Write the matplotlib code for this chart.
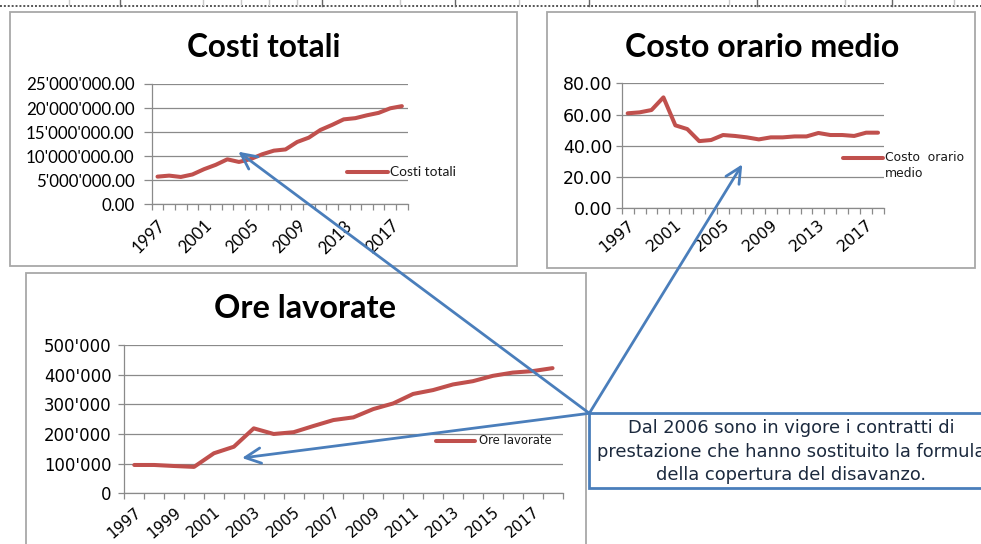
import matplotlib
matplotlib.use('Agg')
import numpy as np
import matplotlib.pyplot as plt
from matplotlib.patches import Rectangle, FancyArrowPatch
from matplotlib.lines import Line2D

# ---------------- data ----------------
years = list(range(1997, 2019))
costi_totali = [5.75e6, 5.96e6, 5.68e6, 6.20e6, 7.30e6, 8.20e6, 9.35e6, 8.80e6,
                9.40e6, 10.40e6, 11.15e6, 11.40e6, 12.95e6, 13.85e6, 15.45e6,
                16.50e6, 17.65e6, 17.90e6, 18.50e6, 19.00e6, 19.95e6, 20.40e6]
costo_orario = [60.8, 61.4, 62.9, 71.0, 53.1, 50.7, 43.0, 43.7, 46.9, 46.3, 45.4,
                44.1, 45.4, 45.4, 46.0, 46.0, 48.2, 46.9, 46.9, 46.3, 48.4, 48.4]
ore_lavorate = [95500, 95500, 92000, 89000, 135000, 157000, 219000, 200000,
                206000, 227000, 247000, 256000, 284000, 303000, 335000, 348000,
                367000, 378000, 396000, 407000, 412000, 422000]

titles = ["Costi totali", "Costo orario medio", "Ore lavorate"]
legend_labels = ["Costi totali", "Costo  orario\nmedio", "Ore lavorate"]
costi_yticks = [0, 5e6, 10e6, 15e6, 20e6, 25e6]
costi_yticklabels = ["0.00", "5'000'000.00", "10'000'000.00", "15'000'000.00",
                     "20'000'000.00", "25'000'000.00"]
orario_yticks = [0, 20, 40, 60, 80]
orario_yticklabels = ["0.00", "20.00", "40.00", "60.00", "80.00"]
ore_yticks = [0, 100000, 200000, 300000, 400000, 500000]
ore_yticklabels = ["0", "100'000", "200'000", "300'000", "400'000", "500'000"]
note_lines = ["Dal 2006 sono in vigore i contratti di",
              "prestazione che hanno sostituito la formula",
              "della copertura del disavanzo."]

# ---------------- layout helpers ----------------
W, H = 981, 544
fig = plt.figure(figsize=(W / 100, H / 100), dpi=100)
fig.patch.set_facecolor('white')


def fx(x):
    return x / W


def fy(y):
    return 1 - y / H


def rect(l, t, r, b):
    return [fx(l), fy(b), (r - l) / W, (b - t) / H]


RED = '#C0504D'
GRID = '#8a8a8a'
BOXC = '#a8a8a8'
BLUE = '#4a7ebb'


def box(l, t, r, b):
    fig.add_artist(Rectangle((fx(l), fy(b)), (r - l) / W, (b - t) / H,
                             transform=fig.transFigure, facecolor='white',
                             edgecolor=BOXC, lw=1.3, zorder=-2))


def chart(pos, values, yticks, yticklabels, step, family, ysize, xsize, rot,
          ytick_len, ypad, xpad):
    ax = fig.add_axes(rect(*pos))
    ax.set_facecolor('none')
    n = len(values)
    x = np.arange(n)
    ax.plot(x, values, color=RED, lw=2.9, solid_capstyle='round',
            solid_joinstyle='round', clip_on=False, zorder=3)
    ax.set_xlim(-0.5, n - 0.5)
    ax.set_ylim(yticks[0], yticks[-1])
    ax.set_yticks(yticks)
    ax.set_yticklabels(yticklabels, fontsize=ysize, family=family)
    ax.yaxis.grid(True, color=GRID, lw=0.9)
    ax.set_axisbelow(True)
    for s in ['top', 'right']:
        ax.spines[s].set_visible(False)
    for s in ['left', 'bottom']:
        ax.spines[s].set_color(GRID)
        ax.spines[s].set_linewidth(0.9)
    ax.set_xticks(x[::step])
    ax.set_xticklabels([str(years[i]) for i in x[::step]], fontsize=xsize,
                       family=family)
    ax.set_xticks(np.arange(-0.5, n, 1), minor=True)
    ax.tick_params(axis='x', which='major', length=0, pad=xpad)
    ax.tick_params(axis='x', which='minor', length=4.2, width=0.9, color=GRID)
    ax.tick_params(axis='y', length=ytick_len, width=0.9, color=GRID, pad=ypad)
    for lbl in ax.get_xticklabels():
        lbl.set_rotation(rot)
        lbl.set_ha('right')
        lbl.set_va('top')
        lbl.set_rotation_mode('anchor')
    return ax


# ---------------- top border remnants ----------------
fig.add_artist(Line2D([0, 1], [fy(5.5), fy(5.5)], transform=fig.transFigure,
                      color='#555555', lw=1.4, ls=(0, (1, 1)), zorder=-1))
for xv in [120, 322, 455, 589, 757, 892]:
    fig.add_artist(Line2D([fx(xv), fx(xv)], [fy(0), fy(6)],
                          transform=fig.transFigure, color='#666666', lw=1))
for xv in [69, 203, 241, 269, 297, 400, 519, 729, 845, 954]:
    fig.add_artist(Line2D([fx(xv), fx(xv)], [fy(0), fy(5)],
                          transform=fig.transFigure, color='#c8c8c8', lw=1))

# ---------------- chart boxes ----------------
box(9.5, 12.5, 516.5, 266)
box(547, 12.5, 975, 268)
box(26, 273, 585.7, 570)

# ---------------- charts ----------------
ax1 = chart((151.7, 84, 407.7, 204.3), costi_totali, costi_yticks,
            costi_yticklabels, 4, 'Lato', 12.2, 12.2, 45, 5.5, 7, 9.5)
ax2 = chart((621.7, 83.3, 884, 208.3), costo_orario, orario_yticks,
            orario_yticklabels, 4, 'DejaVu Sans', 12.5, 11.4, 40, 4.5, 2, 6.5)
ax3 = chart((124.3, 345, 562.5, 493.3), ore_lavorate, ore_yticks,
            ore_yticklabels, 2, 'DejaVu Sans', 11.9, 11.0, 40, 4, 5, 8)

# ---------------- titles ----------------
fig.text(fx(264), fy(56.7), titles[0], ha='center', va='baseline',
         family='Lato', weight='bold', fontsize=22.7)
fig.text(fx(762), fy(56.7), titles[1], ha='center', va='baseline',
         family='Lato', weight='bold', fontsize=23.1)
fig.text(fx(305.5), fy(318), titles[2], ha='center', va='baseline',
         family='Lato', weight='bold', fontsize=23.4)

# ---------------- legends ----------------
def legend(x0, x1, y, lines, tx, family, size, dy=15.6):
    fig.add_artist(Line2D([fx(x0), fx(x1)], [fy(y), fy(y)],
                          transform=fig.transFigure, color=RED, lw=2.9,
                          solid_capstyle='round'))
    for k, t in enumerate(lines):
        fig.text(fx(tx), fy(y + k * dy), t, ha='left', va='center',
                 family=family, fontsize=size, color='#1a1a1a')


legend(347, 388, 171.7, legend_labels[0].split('\n'), 390, 'Lato', 9.9)
legend(843, 883, 157.7, legend_labels[1].split('\n'), 885, 'DejaVu Sans', 8.9)
legend(436, 475, 441, legend_labels[2].split('\n'), 479.3, 'DejaVu Sans', 8.4)

# ---------------- note box ----------------
fig.add_artist(Rectangle((fx(589.3), fy(487.5)), (1000 - 589.3) / W,
                         (487.5 - 413.3) / H, transform=fig.transFigure,
                         facecolor='white', edgecolor=BLUE, lw=2, zorder=4))
for t, yb in zip(note_lines, [433.3, 456.7, 480.0]):
    fig.text(fx(791), fy(yb), t, ha='center', va='baseline',
             family='DejaVu Sans', fontsize=12.9, color='#1c2a3e', zorder=6)

# ---------------- arrows ----------------
origin = (589.3, 413.3)
for tip in [(238.3, 151.7), (742.3, 164.3), (242, 458)]:
    arr = FancyArrowPatch((fx(origin[0]), fy(origin[1])), (fx(tip[0]), fy(tip[1])),
                          transform=fig.transFigure,
                          arrowstyle='->,head_length=0.45,head_width=0.22',
                          mutation_scale=25, color=BLUE, lw=2,
                          shrinkA=0, shrinkB=0, zorder=7)
    fig.add_artist(arr)

fig.savefig('out.png', dpi=100)
